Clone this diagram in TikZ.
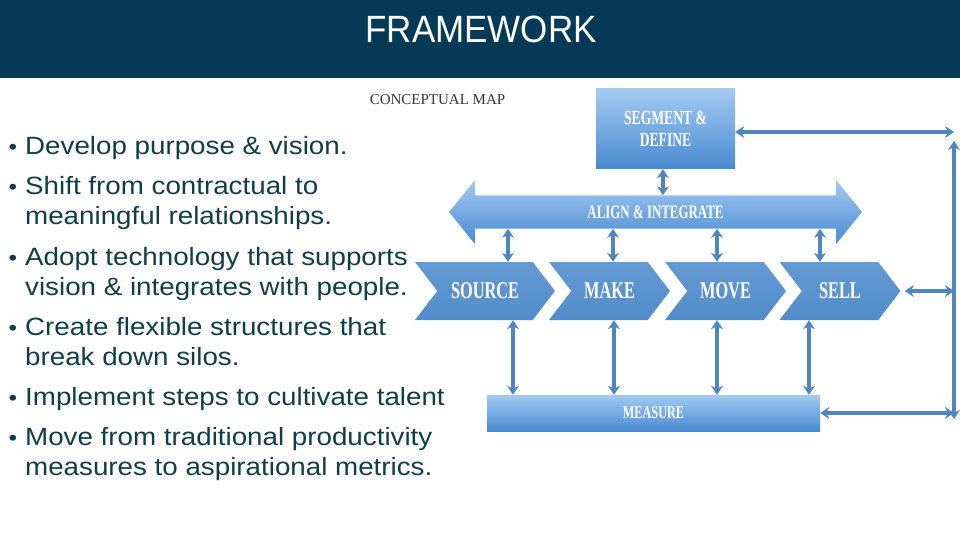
\documentclass[tikz,border=0pt]{standalone}
\usepackage{fontspec}
\setmainfont{Liberation Sans}
\newfontfamily\bodyfont[FakeStretch=1.11]{Liberation Sans}
\newfontfamily\titlefont[FakeStretch=0.92]{Liberation Sans}
\newfontfamily\mapfont{Liberation Serif}
\newfontfamily\boxfont[FakeStretch=0.68]{Liberation Serif Bold}
\usetikzlibrary{shapes.symbols,shapes.arrows,arrows.meta}

\definecolor{navy}{RGB}{6,58,86}
\definecolor{bodytext}{RGB}{16,62,72}
\definecolor{linkblue}{RGB}{79,134,192}
\definecolor{boxtop}{RGB}{164,202,242}
\definecolor{boxbot}{RGB}{72,138,208}
\definecolor{chevtop}{RGB}{100,154,212}
\definecolor{chevbot}{RGB}{82,140,200}

\newcommand{\bul}{\llap{{\fontsize{22}{22}\selectfont\textbullet}\hspace{8pt}}}

\begin{document}
\begin{tikzpicture}[x=1pt,y=-1pt,
    item/.style={anchor=base west, align=left, inner sep=0, text=bodytext,
        font=\bodyfont\fontsize{25}{30}\selectfont},
    stage/.style={signal, signal to=east, signal from=west, signal pointer angle=105,
        minimum height=58, minimum width=121, inner sep=0,
        top color=chevtop, bottom color=chevbot, text=white,
        font=\boxfont\fontsize{24}{24}\selectfont},
    panel/.style={rectangle, inner sep=0, top color=boxtop, bottom color=boxbot,
        text=white, align=center},
    link/.style={draw=linkblue, line width=3.2pt, >={Stealth[length=9pt,width=12pt]}, <->}]

\useasboundingbox (0,0) rectangle (960,540);

% title bar
\fill[navy] (0,0) rectangle (960,78);
\node[text=white, font=\titlefont\fontsize{38}{38}\selectfont] (title) at (481,29) {FRAMEWORK};

% bullet points (base = last line)
\node[item] (purpose) at (25,155) {\bul Develop purpose \& vision.};
\node[item] (relations) at (25,224) {\bul Shift from contractual to\\meaningful relationships.};
\node[item] (technology) at (25,295) {\bul Adopt technology that supports\\vision \& integrates with people.};
\node[item] (structures) at (25,365) {\bul Create flexible structures that\\break down silos.};
\node[item] (talent) at (25,405) {\bul Implement steps to cultivate talent};
\node[item] (metrics) at (25,475) {\bul Move from traditional productivity\\measures to aspirational metrics.};

% conceptual map
\node[text=black!80, font=\mapfont\fontsize{15}{15}\selectfont] (maptitle) at (437.5,100) {CONCEPTUAL MAP};

\node[panel, minimum width=139, minimum height=80,
    font=\boxfont\fontsize{20}{22}\selectfont] (segment) at (665.5,129) {SEGMENT \&\\DEFINE};

\node[double arrow, double arrow head extend=15.5, double arrow tip angle=102,
    minimum height=413, minimum width=64, inner xsep=0, inner ysep=10,
    top color=boxtop, bottom color=boxbot, text=white,
    font=\boxfont\fontsize{19}{19}\selectfont] (align) at (655.5,212) {ALIGN \& INTEGRATE};

\node[stage, minimum width=140] (source) at (485,291) {SOURCE};
\node[stage] (make) at (609.5,291) {MAKE};
\node[stage] (move) at (725.5,291) {MOVE};
\node[stage] (sell) at (840,291) {SELL};

\node[panel, minimum width=333, minimum height=36,
    font=\boxfont\fontsize{18}{18}\selectfont] (measure) at (653.5,413) {MEASURE};

% links
\draw[link] ([xshift=-2.5pt]segment.south) -- ([xshift=-2.5pt]segment.south |- align.north);

\draw[link] ([xshift=23pt]source.north) -- ([xshift=23pt]source.north |- align.south);
\draw[link] ([xshift=3.5pt]make.north) -- ([xshift=3.5pt]make.north |- align.south);
\draw[link] ([xshift=-8.5pt]move.north) -- ([xshift=-8.5pt]move.north |- align.south);
\draw[link] ([xshift=-20pt]sell.north) -- ([xshift=-20pt]sell.north |- align.south);

\draw[link] ([xshift=28pt]source.south) -- ([xshift=28pt]source.south |- measure.north);
\draw[link] ([xshift=4.5pt]make.south) -- ([xshift=4.5pt]make.south |- measure.north);
\draw[link] ([xshift=-8.5pt]move.south) -- ([xshift=-8.5pt]move.south |- measure.north);
\draw[link] ([xshift=-31pt]sell.south) -- ([xshift=-31pt]sell.south |- measure.north);

% feedback loop on the right
\coordinate (fbtop) at (954,141);
\coordinate (fbbot) at (954,419);
\draw[link] ([yshift=-3pt]segment.east) -- ([yshift=-3pt]segment.east -| fbtop);
\draw[link] (fbtop) -- (fbbot);
\draw[link, shorten <=4pt] (sell.east) -- (sell.east -| fbtop);
\draw[link] (measure.east) -- (measure.east -| fbtop);

\end{tikzpicture}
\end{document}
